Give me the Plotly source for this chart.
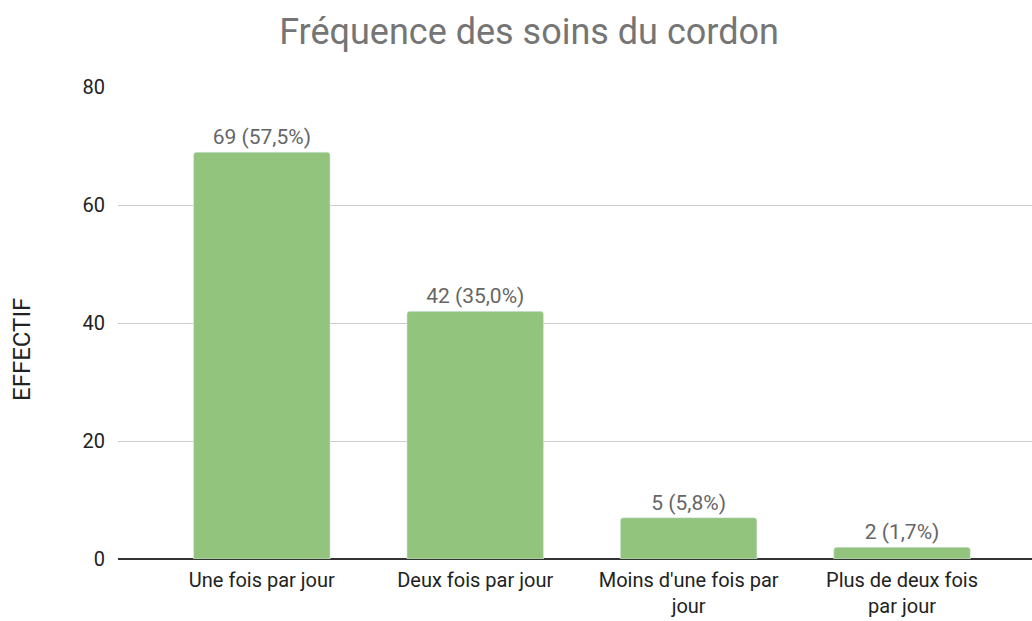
import plotly.graph_objects as go

categories = ["Une fois par jour", "Deux fois par jour", "Moins d'une fois par<br>jour", "Plus de deux fois<br>par jour"]
values = [69, 42, 7, 2]
labels = ["69 (57,5%)", "42 (35,0%)", "5 (5,8%)", "2 (1,7%)"]
y_ticks = [0, 20, 40, 60, 80]

fig = go.Figure(go.Bar(
    x=categories, y=values, text=labels,
    textposition="outside", cliponaxis=False,
    textfont=dict(family="Roboto, Arial", size=21, color="#666666"),
    marker=dict(color="#93c47d", cornerradius=3),
    width=0.64,
))

fig.update_layout(
    width=1032, height=621,
    margin=dict(l=118, r=0, t=87, b=62, autoexpand=False),
    paper_bgcolor="white", plot_bgcolor="white",
    font=dict(family="Roboto, Arial", color="#222222", size=20),
    title=dict(text="Fréquence des soins du cordon", x=0.5126, xanchor="center",
               y=0.950, yanchor="middle",
               font=dict(family="Roboto, Arial", size=36, color="#757575")),
    showlegend=False,
)
fig.update_xaxes(range=[-0.674, 3.609], showgrid=False, automargin=False,
                 ticks="outside", ticklen=3, tickcolor="rgba(0,0,0,0)",
                 tickfont=dict(family="Roboto, Arial", size=20, color="#222222"), showline=False)
fig.update_yaxes(range=[0, 80.05], tickvals=y_ticks, showgrid=True, gridcolor="#cccccc",
                 zeroline=True, zerolinecolor="#333333", zerolinewidth=1.5,
                 automargin=False,
                 tickfont=dict(family="Roboto, Arial", size=20, color="#222222"),
                 ticks="outside", ticklen=8, tickcolor="rgba(0,0,0,0)")
fig.add_annotation(text="EFFECTIF", textangle=-90, showarrow=False,
                   xref="paper", yref="paper", x=(22 - 118) / 914, y=(559 - 350) / 472,
                   xanchor="center", yanchor="middle",
                   font=dict(family="Roboto, Arial", size=24, color="#222222"))

fig.write_html("out.html", config={"displayModeBar": False},
               post_script="document.body.style.margin='0';")
